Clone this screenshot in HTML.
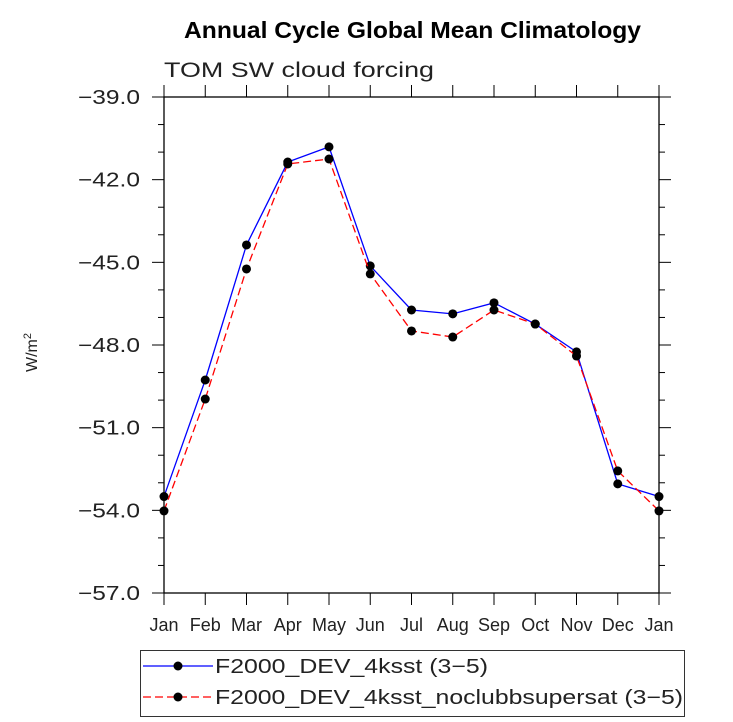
<!DOCTYPE html>
<html><head><meta charset="utf-8"><style>
body{margin:0;background:#fff;}
svg{display:block;font-family:"Liberation Sans",sans-serif;}
</style></head><body>
<svg id="chart" width="733" height="722">
<text x="184" y="38" textLength="457" lengthAdjust="spacingAndGlyphs" font-size="23" font-weight="bold">Annual Cycle Global Mean Climatology</text>
<text x="164" y="77" textLength="270" lengthAdjust="spacingAndGlyphs" font-size="21" fill="#222">TOM SW cloud forcing</text>
<text transform="translate(37,372) rotate(-90)" font-size="16" fill="#222">W/m<tspan font-size="11" dy="-6">2</tspan></text>
<g id="axes"></g>
<g id="series"></g>
<g>
<rect x="140.5" y="650.5" width="544" height="66" fill="none" stroke="#333" stroke-width="1"/>
<line x1="143" y1="666" x2="213" y2="666" stroke="#0000ff" stroke-width="1.3"/>
<circle cx="178" cy="666" r="4.5" fill="#000"/>
<text x="215" y="673" textLength="273" lengthAdjust="spacingAndGlyphs" font-size="20" fill="#222">F2000_DEV_4ksst (3−5)</text>
<line x1="143" y1="697" x2="213" y2="697" stroke="#ff0000" stroke-width="1.3" stroke-dasharray="8,4"/>
<circle cx="178" cy="697" r="4.5" fill="#000"/>
<text x="215" y="704" textLength="468" lengthAdjust="spacingAndGlyphs" font-size="20" fill="#222">F2000_DEV_4ksst_noclubbsupersat (3−5)</text>
</g>
</svg>
<script>
const months = ["Jan","Feb","Mar","Apr","May","Jun","Jul","Aug","Sep","Oct","Nov","Dec","Jan"];
const yTicks = [-39,-42,-45,-48,-51,-54,-57];
const yTickLabels = ["−39.0","−42.0","−45.0","−48.0","−51.0","−54.0","−57.0"];
const blueValues = [-53.5,-49.27,-44.37,-41.36,-40.81,-45.13,-46.73,-46.87,-46.47,-47.24,-48.25,-53.04,-53.5];
const redValues = [-54.02,-49.96,-45.24,-41.43,-41.25,-45.42,-47.49,-47.71,-46.73,-47.24,-48.4,-52.57,-54.02];

const X0=164,X1=659,Y0=97,Y1=593,YMAX=-39,YMIN=-57;
const xs=i=>X0+(X1-X0)*i/(months.length-1);
const ys=v=>Y0+(YMAX-v)/(YMAX-YMIN)*(Y1-Y0);
const NS="http://www.w3.org/2000/svg";
function mk(t,a,p){const e=document.createElementNS(NS,t);for(const k in a)e.setAttribute(k,a[k]);p.appendChild(e);return e;}
const axes=document.getElementById('axes');
const frame=mk('rect',{x:X0,y:Y0,width:X1-X0,height:Y1-Y0,fill:'none',stroke:'#000','stroke-width':1.3},axes);


for(let v=YMAX;v>=YMIN;v--){
  const y=ys(v);const major=(v%3===0);const L=major?12:6;
  mk('line',{x1:X0-L,y1:y,x2:X0,y2:y,stroke:'#000','stroke-width':1},axes);
  mk('line',{x1:X1,y1:y,x2:X1+L,y2:y,stroke:'#000','stroke-width':1},axes);
}
yTicks.forEach((v,i)=>{
  const t=mk('text',{x:78,y:ys(v)+7,textLength:62,lengthAdjust:'spacingAndGlyphs','font-size':20,fill:'#222'},axes);
  t.textContent=yTickLabels[i];
  
  
});
months.forEach((m,i)=>{
  const x=xs(i);
  mk('line',{x1:x,y1:Y0-12,x2:x,y2:Y0,stroke:'#000','stroke-width':1},axes);
  mk('line',{x1:x,y1:Y1,x2:x,y2:Y1+12,stroke:'#000','stroke-width':1},axes);
  const t=mk('text',{x:x,y:Y1+38,'text-anchor':'middle','font-size':18,fill:'#222'},axes);
  t.textContent=m;
  
  
});
const ser=document.getElementById('series');
function draw(vals,color,dash,name){
  const pts=vals.map((v,i)=>xs(i)+','+ys(v)).join(' ');
  const pl=mk('polyline',{points:pts,fill:'none',stroke:color,'stroke-width':1.3,'stroke-dasharray':dash},ser);
  
  
  vals.forEach((v,i)=>{
    const c=mk('circle',{cx:xs(i),cy:ys(v),r:4.5,fill:'#000'},ser);
    
    
  });
}
draw(blueValues,'#0000ff','none','blue-series');
draw(redValues,'#ff0000','8,4','red-series');
</script>
</body></html>
